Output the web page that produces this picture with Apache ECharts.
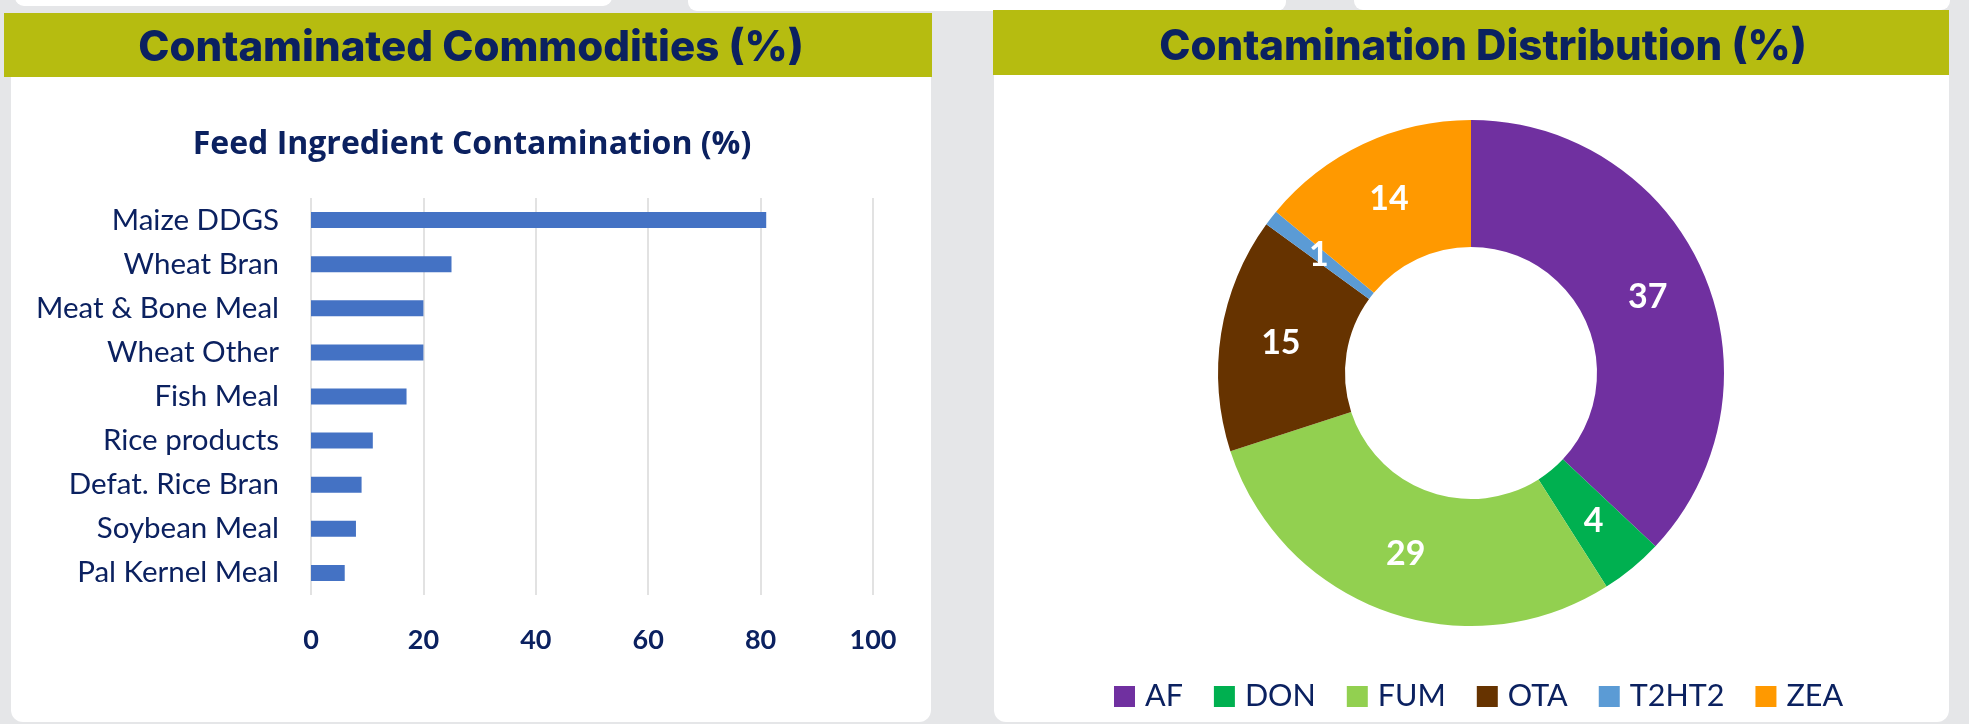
<!DOCTYPE html>
<html>
<head>
<meta charset="utf-8">
<script src="https://cdn.jsdelivr.net/npm/echarts@6/dist/echarts.min.js"></script>
<style>
  html, body { margin: 0; padding: 0; background: #e5e6e8; }
  #wrap { position: relative; width: 1969px; height: 724px; overflow: hidden; background: #e5e6e8; }
  .blk { position: absolute; background: #ffffff; }
  .hdr { position: absolute; background: #b6bc10; }
  #chart { position: absolute; left: 0; top: 0; width: 1969px; height: 724px; }
</style>
</head>
<body>
<div id="wrap">
  <div class="blk" style="left:15px;top:-20px;width:597px;height:26px;border-radius:9px;"></div>
  <div class="blk" style="left:688px;top:-20px;width:598px;height:31px;border-radius:9px;"></div>
  <div class="blk" style="left:1354px;top:-20px;width:596px;height:30px;border-radius:9px;"></div>
  <div class="blk" style="left:11px;top:13px;width:920px;height:709px;border-radius:0 0 12px 12px;"></div>
  <div class="blk" style="left:994px;top:10px;width:955px;height:712px;border-radius:0 0 12px 12px;"></div>
  <div class="hdr" style="left:4px;top:13px;width:928px;height:64px;"></div>
  <div class="hdr" style="left:993px;top:10px;width:956px;height:65px;"></div>
  <div id="chart"></div>
</div>
<script>
// ---- data ----
const categories = ['Maize DDGS', 'Wheat Bran', 'Meat & Bone Meal', 'Wheat Other', 'Fish Meal',
                    'Rice products', 'Defat. Rice Bran', 'Soybean Meal', 'Pal Kernel Meal'];
const contamination = [81, 25, 20, 20, 17, 11, 9, 8, 6];
const mycotoxins = ['AF', 'DON', 'FUM', 'OTA', 'T2HT2', 'ZEA'];
const shares = [37, 4, 29, 15, 1, 14];
const mycotoxinColors = ['#7030a0', '#00b050', '#92d050', '#663300', '#5b9bd5', '#ff9900'];
const panelTitles = ['Contaminated Commodities (%)', 'Contamination Distribution (%)'];
const barChartTitle = 'Feed Ingredient Contamination (%)';

const navy = '#0b2160';
const chart = echarts.init(document.getElementById('chart'), null, { renderer: 'canvas' });

const option = {
  backgroundColor: 'transparent',
  animation: false,
  graphic: [
    { type: 'text', x: 471, y: 48, z: 100,
      style: { text: panelTitles[0], fill: navy, font: '800 42px Inter', align: 'center', verticalAlign: 'middle' } },
    { type: 'text', x: 1483, y: 47, z: 100,
      style: { text: panelTitles[1], fill: navy, font: '800 42px Inter', align: 'center', verticalAlign: 'middle' } },
    { type: 'text', x: 472, y: 145, z: 100,
      style: { text: barChartTitle, fill: navy, font: '700 32px "Open Sans"', align: 'center', verticalAlign: 'middle' } }
  ],
  grid: { left: 311, top: 198, width: 562, height: 397, containLabel: false },
  xAxis: {
    type: 'value', min: 0, max: 100, interval: 20,
    axisLine: { show: false }, axisTick: { show: false },
    splitLine: { show: true, lineStyle: { color: '#d9d9d9', width: 1.5 } },
    axisLabel: { fontFamily: 'Lato', fontWeight: 'bold', fontSize: 27, color: navy, margin: 32 }
  },
  yAxis: {
    type: 'category', data: categories, inverse: true,
    axisLine: { show: false }, axisTick: { show: false }, splitLine: { show: false },
    axisLabel: { fontFamily: 'Lato', fontSize: 29.5, color: navy, margin: 32 }
  },
  legend: {
    data: mycotoxins, left: 1114, top: 681, orient: 'horizontal',
    icon: 'rect', itemWidth: 21, itemHeight: 21, itemGap: 31, padding: 0,
    selectedMode: false,
    textStyle: { fontFamily: 'Lato', fontSize: 30.5, color: navy, padding: [0, 0, 0, 5] }
  },
  series: [
    {
      type: 'bar', data: contamination, barWidth: 16,
      itemStyle: { color: '#4472c4' }, silent: true
    },
    {
      type: 'pie', center: [1471, 373], radius: [126, 253], startAngle: 90, clockwise: true,
      avoidLabelOverlap: false, silent: true,
      color: mycotoxinColors,
      data: mycotoxins.map((n, i) => ({ name: n, value: shares[i] })),
      label: { show: true, position: 'inside', formatter: '{c}', color: '#ffffff',
               fontFamily: 'Lato', fontWeight: 'bold', fontSize: 34 },
      labelLine: { show: false },
      itemStyle: { borderWidth: 0 }
    }
  ]
};
chart.setOption(option);
</script>
</body>
</html>
